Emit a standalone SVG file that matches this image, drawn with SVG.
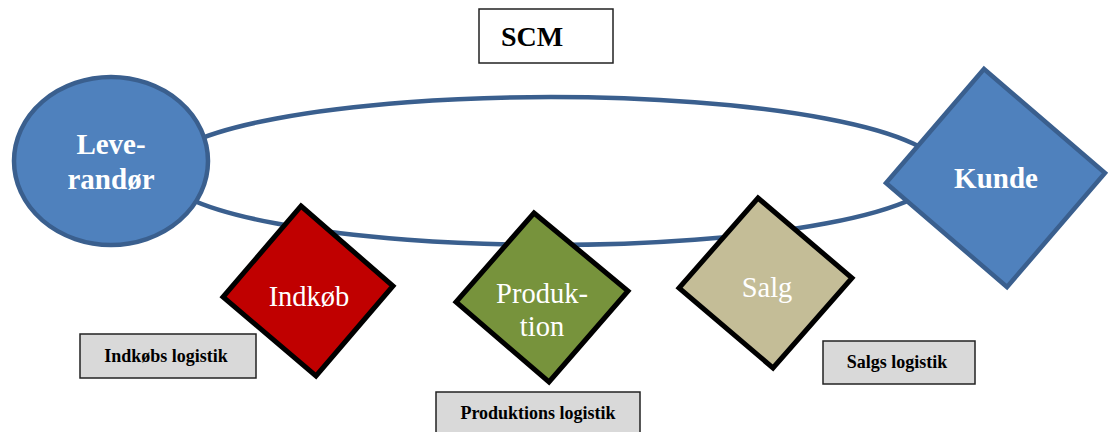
<svg xmlns="http://www.w3.org/2000/svg" width="1111" height="432" viewBox="0 0 1111 432">
<style>
.ring{fill:none;stroke:#3A5F8E;stroke-width:4.5}
.blue{fill:#4F81BD;stroke:#3A5F8E;stroke-width:4.5}
.dia{stroke:#000;stroke-width:5;stroke-linejoin:miter}
.box{fill:#D9D9D9;stroke:#222;stroke-width:1.5}
.wb{font-family:"Liberation Serif",serif;font-weight:bold;fill:#fff;font-size:29px;text-anchor:middle}
.wn{font-family:"Liberation Serif",serif;fill:#fff;font-size:28.5px;text-anchor:middle}
.lb{font-family:"Liberation Serif",serif;font-weight:bold;fill:#000;font-size:18px;text-anchor:middle}
</style>
<rect width="1111" height="432" fill="#fff"/>
<g id="connectors">
<ellipse class="ring" cx="551" cy="171" rx="390" ry="74"/>
</g>
<g id="scm">
<rect x="479" y="9" width="134" height="54" fill="#fff" stroke="#222" stroke-width="1.5"/>
<text x="532" y="46" font-family="'Liberation Serif',serif" font-weight="bold" font-size="28" text-anchor="middle">SCM</text>
</g>
<g id="leverandor">
<ellipse class="blue" cx="111" cy="161" rx="97" ry="84"/>
<text class="wb" x="111" y="154">Leve-</text>
<text class="wb" x="111" y="189">randør</text>
</g>
<g id="kunde">
<polygon class="blue" points="984,69 1105,173 1007,287 886,183"/>
<text class="wb" x="996" y="188">Kunde</text>
</g>
<g id="indkobs-logistik">
<rect class="box" x="80" y="334" width="176" height="44"/>
<text class="lb" x="166" y="362">Indkøbs logistik</text>
</g>
<g id="indkob">
<polygon class="dia" fill="#C00000" points="301,206 393,286 316,376 223,297"/>
<text class="wn" x="309" y="306">Indkøb</text>
</g>
<g id="produktions-logistik">
<rect class="box" x="436" y="392" width="204" height="44"/>
<text class="lb" x="538" y="419">Produktions logistik</text>
</g>
<g id="produktion">
<polygon class="dia" fill="#77933C" points="534,213 628,291 549,382 456,302"/>
<text class="wn" x="542" y="303">Produk-</text>
<text class="wn" x="542" y="336">tion</text>
</g>
<g id="salgs-logistik">
<rect class="box" x="823" y="341" width="152" height="43"/>
<text class="lb" x="897" y="368">Salgs logistik</text>
</g>
<g id="salg">
<polygon class="dia" fill="#C4BD97" points="758,198 852,278 773,368 679,288"/>
<text class="wn" x="767" y="297">Salg</text>
</g>
</svg>
